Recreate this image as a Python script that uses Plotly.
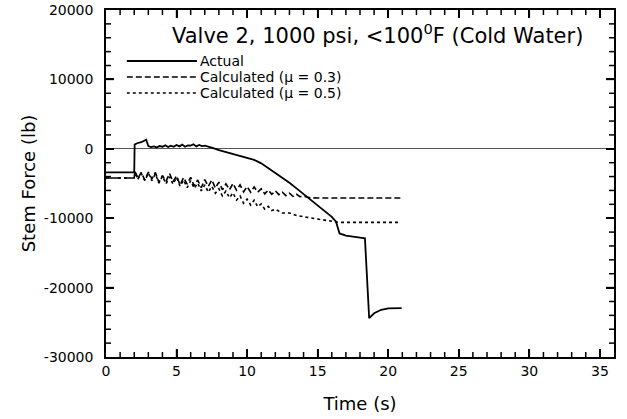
import plotly.graph_objects as go

# ---- data ----
t_actual = [0, 2.0, 2.03, 2.2, 2.5, 2.7, 2.85, 3.0, 3.2, 3.4, 3.6, 3.8, 4.0, 4.2, 4.4, 4.6,
            4.8, 5.0, 5.2, 5.4, 5.6, 5.8, 6.0, 6.2, 6.4, 6.6, 6.8, 7.0, 7.3, 7.6, 8.0,
            8.5, 9.0, 9.5, 10.0, 10.5, 11.0, 11.5, 12.0, 12.5, 13.0, 13.5, 14.0, 14.5,
            15.0, 15.5, 16.0, 16.3, 16.55, 17.0, 17.5, 18.0, 18.35, 18.65, 19.0, 19.5,
            20.0, 20.95]
f_actual = [-3400, -3400, 600, 800, 950, 1100, 1300, 400, 250, 350, 200, 400, 300, 500,
            250, 450, 300, 550, 350, 600, 300, 500, 450, 650, 350, 550, 400, 450, 300,
            100, -200, -500, -800, -1000, -1300, -1600, -2100, -2800, -3400, -4100,
            -4900, -5700, -6500, -7300, -8100, -8900, -9800, -10500, -12200, -12500,
            -12600, -12800, -12900, -24400, -23700, -23200, -23000, -22950]

t_mu03 = [0, 2.0, 2.05, 2.25, 2.5, 2.75, 3.0, 3.25, 3.5, 3.75, 4.0, 4.25, 4.5, 4.75, 5.0,
          5.25, 5.5, 5.75, 6.0, 6.25, 6.5, 6.75, 7.0, 7.25, 7.5, 7.75, 8.0, 8.25, 8.5,
          8.75, 9.0, 9.25, 9.5, 9.75, 10.0, 10.25, 10.5, 10.75, 11.0, 11.25, 11.5, 11.75,
          12.0, 12.25, 12.5, 12.75, 13.0, 13.25, 13.5, 13.75, 14.0, 14.5, 15.0, 21.0]
f_mu03 = [-4200, -4200, -3200, -4300, -3400, -4500, -3350, -4350, -3400, -4850, -3850,
          -4700, -3550, -4750, -3900, -5200, -4150, -5100, -4100, -5350, -4500, -5600,
          -4450, -5400, -4500, -5650, -4800, -5900, -5050, -5900, -5000, -5950, -5200,
          -6200, -5450, -6250, -5500, -6250, -5750, -6500, -5950, -6550, -6050, -6600,
          -6250, -6750, -6400, -6850, -6550, -6900, -6850, -7050, -7100, -7100]

t_mu05 = [0, 2.0, 2.1, 2.25, 2.5, 2.75, 3.0, 3.25, 3.5, 3.75, 4.0, 4.25, 4.5, 4.75, 5.0,
          5.25, 5.5, 5.75, 6.0, 6.25, 6.5, 6.75, 7.0, 7.25, 7.5, 7.75, 8.0, 8.25, 8.5,
          8.75, 9.0, 9.25, 9.5, 9.75, 10.0, 10.25, 10.5, 10.75, 11.0, 11.25, 11.5, 11.75,
          12.0, 12.5, 13.0, 13.5, 14.0, 14.5, 15.0, 15.5, 16.0, 16.5, 20.8]
f_mu05 = [-4200, -4200, -3350, -4400, -3550, -4600, -3500, -4600, -3600, -4950, -3950,
          -5050, -4050, -5100, -4100, -5400, -4500, -5600, -4600, -5700, -4950, -6050,
          -5200, -6250, -5400, -6400, -5750, -6800, -6100, -7050, -6350, -7400, -6800,
          -7850, -7250, -8100, -7400, -8350, -7950, -8700, -8300, -8900, -8700, -9250,
          -9250, -9600, -9800, -9950, -10150, -10300, -10450, -10600, -10600]

series_names = ["Actual", "Calculated (\u03bc = 0.3)", "Calculated (\u03bc = 0.5)"]
series_dash = ["solid", "6px,3px", "dot"]
series_width = [1.8, 1.6, 1.6]
x_tick_vals = [0, 5, 10, 15, 20, 25, 30, 35]
x_tick_text = ["0", "5", "10", "15", "20", "25", "30", "35"]
y_tick_vals = [20000, 10000, 0, -10000, -20000, -30000]
y_tick_text = ["20000", "10000", "0", "-10000", "-20000", "-30000"]
x_range = [0, 36]
y_range = [-30000, 20000]
x_minor_step = 1
y_minor_step = 2000
title_text = "Valve 2, 1000 psi, <100<sup>0</sup>F (Cold Water)"

FONT = "DejaVu Sans, Verdana, sans-serif"
PLOT_W, PLOT_H = 508, 347

fig = go.Figure()
for xs, ys, nm, ds, wd in zip([t_actual, t_mu03, t_mu05], [f_actual, f_mu03, f_mu05],
                              series_names, series_dash, series_width):
    fig.add_trace(go.Scatter(x=xs, y=ys, mode="lines", name=nm, showlegend=False,
                             line=dict(color="black", width=wd, dash=ds)))

axis_common = dict(
    showgrid=False, showline=True, linecolor="black", linewidth=1.5, mirror="allticks",
    ticks="inside", ticklen=8, tickwidth=1.5, tickcolor="black",
    automargin=False, ticklabeloverflow="allow",
    tickfont=dict(family=FONT, size=14, color="black"),
    title_font=dict(family=FONT, size=18, color="black"),
)

fig.update_xaxes(range=x_range, tickmode="array", tickvals=x_tick_vals, ticktext=x_tick_text,
                 title_text="Time (s)", title_standoff=20, zeroline=False, **axis_common)
fig.update_yaxes(range=y_range, tickmode="array", tickvals=y_tick_vals,
                 ticktext=y_tick_text,
                 title_text="Stem Force (lb)", title_standoff=4, zeroline=True,
                 zerolinecolor="#555555", zerolinewidth=1, ticklabelstandoff=8,
                 **axis_common)

# inward tick marks on all four sides (major every labelled value, minor in between)
tick_line = dict(color="black", width=1.5)
xv = x_range[0] + x_minor_step
while xv < x_range[1]:
    ln = (8 if xv in x_tick_vals else 5) / PLOT_H
    fig.add_shape(type="line", xref="x", yref="paper", x0=xv, x1=xv, y0=0, y1=ln,
                  line=tick_line, layer="above")
    fig.add_shape(type="line", xref="x", yref="paper", x0=xv, x1=xv, y0=1 - ln, y1=1,
                  line=tick_line, layer="above")
    xv += x_minor_step
yv = y_range[0] + y_minor_step
while yv < y_range[1]:
    ln = (8 if yv in y_tick_vals else 5) / PLOT_W
    fig.add_shape(type="line", xref="paper", yref="y", x0=0, x1=ln, y0=yv, y1=yv,
                  line=tick_line, layer="above")
    fig.add_shape(type="line", xref="paper", yref="y", x0=1 - ln, x1=1, y0=yv, y1=yv,
                  line=tick_line, layer="above")
    yv += y_minor_step

fig.add_annotation(text=title_text, xref="paper", yref="paper", x=0.535, y=0.978,
                   showarrow=False, font=dict(family=FONT, size=21, color="black"))

# legend key (drawn as a key box inside the plot, like the reference)
leg_y = [0.853, 0.807, 0.761]
for nm, ds, wd, ly in zip(series_names, series_dash, series_width, leg_y):
    fig.add_shape(type="line", xref="paper", yref="paper", x0=0.041, x1=0.179, y0=ly, y1=ly,
                  line=dict(color="black", width=wd, dash=ds))
    fig.add_annotation(text=nm, xref="paper", yref="paper", x=0.183, y=ly, xanchor="left",
                       yanchor="middle", showarrow=False, borderpad=0,
                       font=dict(family=FONT, size=14, color="black"))

fig.update_layout(
    width=627, height=419,
    margin=dict(l=106, r=13, t=10, b=62),
    paper_bgcolor="white", plot_bgcolor="white",
    showlegend=False,
)

# remove the browser's default 8 px page margin so the figure sits at the window origin
fig.write_html("out.html", config={"displayModeBar": False},
               post_script="document.body.style.margin='0';document.body.style.padding='0';")
